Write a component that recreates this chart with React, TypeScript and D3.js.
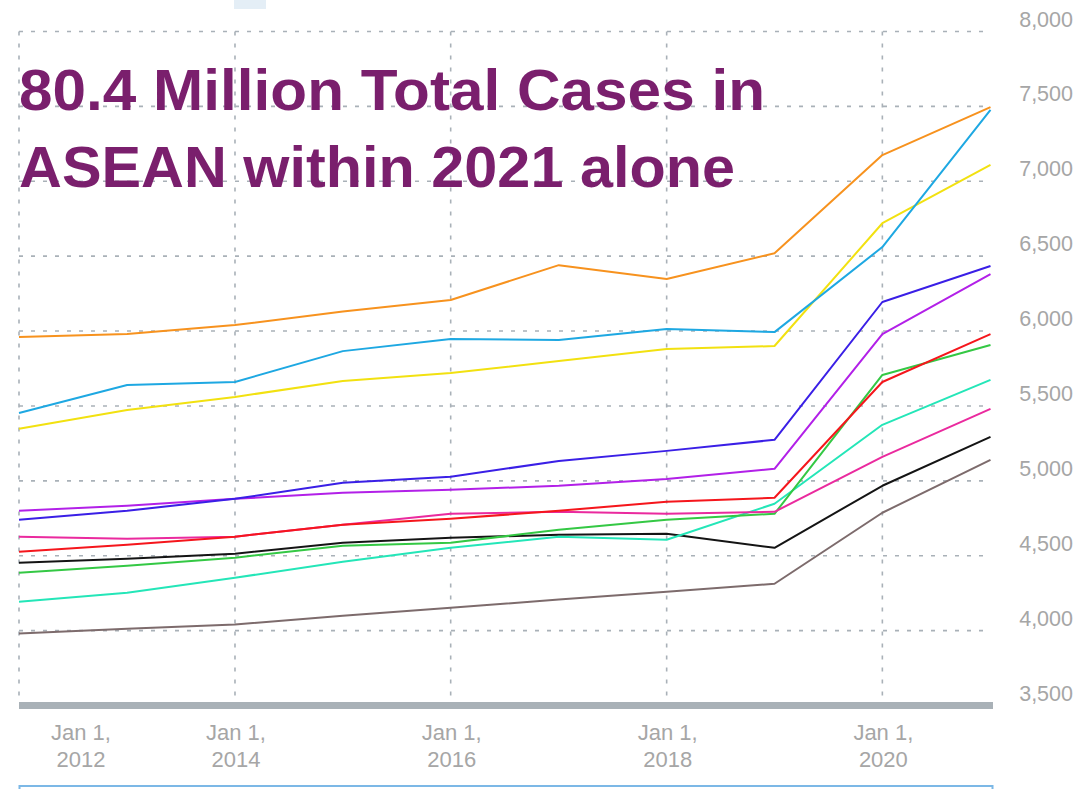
import React from "react";
import * as d3 from "d3";

const years = [2012, 2013, 2014, 2015, 2016, 2017, 2018, 2019, 2020, 2021];
const yTicks = [3500, 4000, 4500, 5000, 5500, 6000, 6500, 7000, 7500, 8000];
const xTickYears = [2012, 2014, 2016, 2018, 2020];
const gridYears = [2012, 2014, 2016, 2018, 2020];

const orange = [5960, 5980, 6040, 6130, 6207, 6440, 6347, 6520, 7175, 7495];
const lightBlue = [5453, 5640, 5660, 5866, 5947, 5940, 6013, 5993, 6561, 7476];
const yellow = [5347, 5473, 5560, 5667, 5720, 5800, 5880, 5900, 6720, 7109];
const blue = [4740, 4800, 4880, 4987, 5027, 5133, 5200, 5274, 6194, 6434];
const violet = [4800, 4834, 4880, 4920, 4940, 4967, 5013, 5080, 5980, 6380];
const red = [4527, 4573, 4627, 4707, 4747, 4800, 4860, 4887, 5660, 5980];
const pink = [4627, 4613, 4627, 4707, 4780, 4793, 4780, 4793, 5160, 5480];
const black = [4453, 4480, 4513, 4587, 4620, 4640, 4647, 4553, 4967, 5293];
const green = [4387, 4433, 4487, 4567, 4587, 4673, 4740, 4780, 5707, 5907];
const turquoise = [4193, 4253, 4353, 4460, 4553, 4627, 4607, 4847, 5374, 5674];
const grayBrown = [3980, 4013, 4040, 4100, 4153, 4207, 4260, 4313, 4787, 5140];

const seriesList = [
  { name: "grayBrown", values: grayBrown, color: "#7d6b6c" },
  { name: "black", values: black, color: "#141414" },
  { name: "turquoise", values: turquoise, color: "#24e6b8" },
  { name: "green", values: green, color: "#34c844" },
  { name: "pink", values: pink, color: "#ea2a9e" },
  { name: "red", values: red, color: "#f5161c" },
  { name: "violet", values: violet, color: "#b220e8" },
  { name: "blue", values: blue, color: "#3a1fe6" },
  { name: "yellow", values: yellow, color: "#f2e110" },
  { name: "lightBlue", values: lightBlue, color: "#1ea8e2" },
  { name: "orange", values: orange, color: "#f7921e" },
];

const titleLines = ["80.4 Million Total Cases in", "ASEAN within 2021 alone"];

export default function App() {
  const W = 1081;
  const H = 789;
  const x = d3
    .scaleUtc()
    .domain([new Date(Date.UTC(2012, 0, 1)), new Date(Date.UTC(2021, 0, 1))])
    .range([19, 990.5]);
  const y = d3.scaleLinear().domain([3500, 8000]).range([705.5, 31.5]);
  const dt = (yr: number) => new Date(Date.UTC(yr, 0, 1));
  const line = d3
    .line<number>()
    .x((_, i) => x(dt(years[i])))
    .y((v) => y(v));
  const gridColor = "#a9b1b8";
  const labelFont = "'Liberation Sans', Arial, Helvetica, sans-serif";

  return (
    <svg
      width={W}
      height={H}
      style={{ position: "absolute", left: 0, top: 0, background: "#fff" }}
    >
      <rect x={234} y={0} width={32} height={9} fill="#e4eef6" />
      {/* horizontal grid */}
      {yTicks
        .filter((t) => t !== 3500)
        .map((t) => (
          <line
            key={"h" + t}
            x1={19}
            x2={984}
            y1={y(t)}
            y2={y(t)}
            stroke={gridColor}
            strokeWidth={1.6}
            strokeDasharray="4 8"
          />
        ))}
      {/* vertical grid */}
      {gridYears.map((yr) => (
        <line
          key={"v" + yr}
          x1={x(dt(yr))}
          x2={x(dt(yr))}
          y1={y(8000)}
          y2={703}
          stroke={gridColor}
          strokeWidth={1.6}
          strokeDasharray="4 8"
        />
      ))}
      {/* y labels */}
      {yTicks.map((t) => (
        <text
          key={"yl" + t}
          x={1073}
          y={y(t) - 5}
          textAnchor="end"
          fontFamily={labelFont}
          fontSize={21.5}
          fill="#a6a6a6"
        >
          {d3.format(",")(t)}
        </text>
      ))}
      {/* lines */}
      {seriesList.map((s) => (
        <path
          key={s.name}
          d={line(s.values) || ""}
          fill="none"
          stroke={s.color}
          strokeWidth={2}
          strokeLinejoin="round"
        />
      ))}
      {/* axis line */}
      <line x1={19} x2={993} y1={705.5} y2={705.5} stroke="#a9b1b7" strokeWidth={7} />
      {/* x labels */}
      {xTickYears.map((yr) => {
        const cx = Math.max(x(dt(yr)), 80);
        return (
          <text
            key={"xl" + yr}
            x={cx + 1}
            textAnchor="middle"
            fontFamily={labelFont}
            fontSize={22}
            fill="#a6a6a6"
          >
            <tspan x={cx + 1} y={740}>
              Jan 1,
            </tspan>
            <tspan x={cx + 1} y={767}>
              {String(yr)}
            </tspan>
          </text>
        );
      })}
      {/* slider box */}
      <rect
        x={19.5}
        y={786}
        width={973}
        height={30}
        fill="none"
        stroke="#7cb8e6"
        strokeWidth={2}
      />
      {/* title */}
      {titleLines.map((t, i) => (
        <text
          key={"t" + i}
          x={19}
          y={110 + i * 77}
          fontFamily={labelFont}
          fontWeight={700}
          fontSize={58}
          fill="#7a1f6d"
          textLength={i === 0 ? 746 : 716}
          lengthAdjust="spacingAndGlyphs"
        >
          {t}
        </text>
      ))}
    </svg>
  );
}
